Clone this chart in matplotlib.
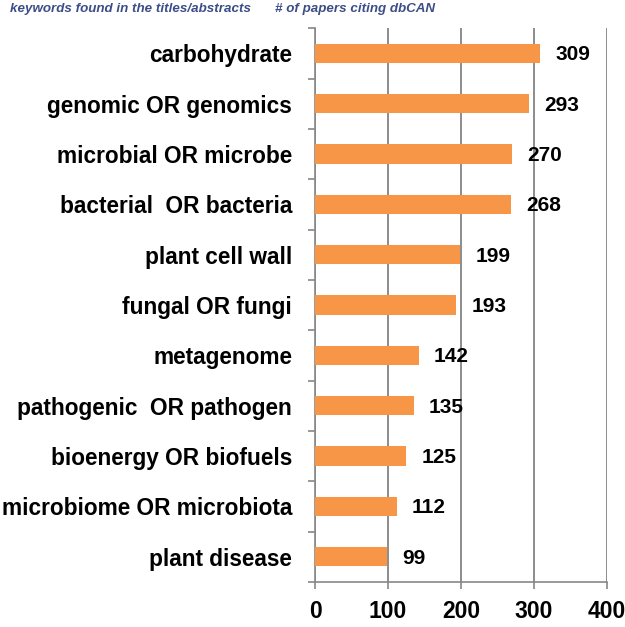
import matplotlib
matplotlib.use("Agg")
import matplotlib.pyplot as plt
import numpy as np

keywords = ["carbohydrate", "genomic OR genomics", "microbial OR microbe",
            "bacterial  OR bacteria", "plant cell wall", "fungal OR fungi",
            "metagenome", "pathogenic  OR pathogen", "bioenergy OR biofuels",
            "microbiome OR microbiota", "plant disease"]
papers = [309, 293, 270, 268, 199, 193, 142, 135, 125, 112, 99]
xticks = [0, 100, 200, 300, 400]

plt.rcParams['font.family'] = ['Liberation Sans', 'DejaVu Sans']

fig = plt.figure(figsize=(6.25, 6.27), dpi=100)
ax = fig.add_axes([0.504, 0.072, 0.467, 0.883])

y = np.arange(len(keywords))
ax.barh(y, papers, height=0.38, color='#F79646', zorder=3)
for yi, v in zip(y, papers):
    ax.text(v + 21, yi + 0.03, str(v), va='center', ha='left', fontsize=15,
            fontweight='bold', color='black')

ax.set_ylim(len(keywords) - 0.5, -0.5)
ax.set_xlim(0, 400)
ax.set_yticks(y)
ax.set_yticklabels(keywords, fontsize=16.3, fontweight='bold')
ax.tick_params(axis='y', which='major', length=0, pad=16.5)
ax.set_yticks(np.arange(-0.5, len(keywords), 1), minor=True)
ax.tick_params(axis='y', which='minor', length=5, color='#888888', width=1.2)

ax.set_xticks(xticks)
ax.set_xticklabels([str(t) for t in xticks], fontsize=16.5, fontweight='bold')
ax.tick_params(axis='x', length=5, color='#888888', width=1.2, pad=8)
ax.grid(axis='x', color='#8c8c8c', linewidth=1.4, zorder=0)

for s in ['top', 'right']:
    ax.spines[s].set_visible(False)
for s in ['left', 'bottom']:
    ax.spines[s].set_color('#888888')
    ax.spines[s].set_linewidth(1.2)

fig.text(0.016, 0.986, "keywords found in the titles/abstracts", fontsize=9.6,
         fontweight='bold', style='italic', color='#3B4E87', va='center')
fig.text(0.44, 0.986, "# of papers citing dbCAN", fontsize=9.6,
         fontweight='bold', style='italic', color='#3B4E87', va='center')

fig.savefig("out.png", dpi=100)
